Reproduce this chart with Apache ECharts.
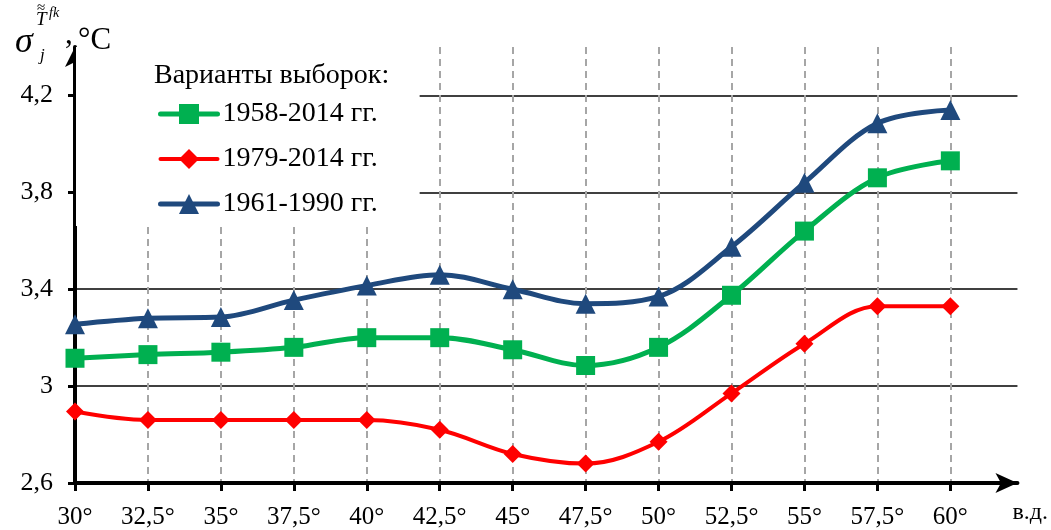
<!DOCTYPE html>
<html>
<head>
<meta charset="utf-8">
<script src="https://cdn.jsdelivr.net/npm/echarts@6/dist/echarts.min.js"></script>
<style>
  html, body { margin: 0; padding: 0; background: #fff; }
  #chart { width: 1051px; height: 530px; }
</style>
</head>
<body>
<div id="chart"></div>
<script>
// longitude, degrees E
const longitudes = [30, 32.5, 35, 37.5, 40, 42.5, 45, 47.5, 50, 52.5, 55, 57.5, 60];
const yTickValues = [2.6, 3, 3.4, 3.8, 4.2];
const seriesNames = ['1958-2014 гг.', '1979-2014 гг.', '1961-1990 гг.'];
const values1958 = [3.115, 3.13, 3.14, 3.16, 3.2, 3.2, 3.15, 3.085, 3.16, 3.375, 3.64, 3.86, 3.93];
const values1979 = [2.895, 2.86, 2.86, 2.86, 2.86, 2.82, 2.72, 2.68, 2.77, 2.97, 3.175, 3.33, 3.33];
const values1961 = [3.255, 3.28, 3.285, 3.355, 3.415, 3.46, 3.4, 3.34, 3.37, 3.575, 3.84, 4.085, 4.14];

const serif = '"Liberation Serif", "DejaVu Serif", serif';
const fmtNum = v => String(v).replace('.', ',');
const pairs = vals => longitudes.map((x, i) => [x, vals[i]]);

let chartElem = document.getElementById('chart');
let chart = echarts.init(chartElem, null, { renderer: 'canvas' });

function lineSeries(name, vals, color, symbol, size, width) {
    return {
        name: name,
        type: 'line',
        data: pairs(vals),
        smooth: 0.35,
        symbol: symbol,
        symbolSize: size,
        lineStyle: { color: color, width: width },
        itemStyle: { color: color },
        emphasis: { disabled: true }
    };
}

const titleText = (text, left, top, size, italic) => ({
    text: text, left: left, top: top, z: 10,
    textStyle: {
        fontFamily: serif, fontWeight: 'normal', fontSize: size,
        fontStyle: italic ? 'italic' : 'normal', color: '#000'
    }
});

chart.setOption({
    animation: false,
    title: [
        titleText('σ', 10, 20, 36, true),
        titleText('j', 35, 42, 17, true),
        titleText('≈', 32, -4, 15, false),
        titleText('T', 31, 5, 19, true),
        titleText('fk', 44, 1, 14, true),
        titleText(',', 60, 14, 31, false),
        titleText('°C', 73, 20, 31, false),
        titleText('Варианты выборок:', 149, 57, 28, false)
    ],
    legend: {
        data: [
            { name: seriesNames[0], lineStyle: { width: 5 } },
            { name: seriesNames[1], lineStyle: { width: 4 } },
            { name: seriesNames[2], lineStyle: { width: 5 } }
        ],
        orient: 'vertical',
        left: 76, top: 47,
        padding: [53, 42, 8, 82],
        backgroundColor: '#fff',
        itemWidth: 57,
        itemHeight: 25,
        itemGap: 17,
        lineStyle: { width: 5, cap: 'round' },
        textStyle: { fontFamily: serif, fontSize: 28, color: '#000' }
    },
    grid: { left: 75, right: 33, top: 47, bottom: 45 },
    xAxis: {
        type: 'value',
        min: 30,
        max: 62.3,
        name: 'в.д.',
        nameLocation: 'end',
        nameGap: -5,
        nameTextStyle: { fontFamily: serif, fontSize: 24, color: '#000', verticalAlign: 'top', padding: [18, 0, 0, 0] },
        axisLine: {
            lineStyle: { color: '#000', width: 4 },
            symbol: ['none', 'arrow'],
            symbolSize: [15, 22]
        },
        axisTick: { customValues: longitudes, length: 8, lineStyle: { color: '#000', width: 3 } },
        axisLabel: {
            customValues: longitudes,
            formatter: v => fmtNum(v) + '°',
            margin: 22,
            fontFamily: serif, fontSize: 25, color: '#000'
        },
        splitLine: { show: true, lineStyle: { color: '#A6A6A6', width: 2, type: [7, 5] } }
    },
    yAxis: {
        type: 'value',
        min: 2.6,
        max: 4.4,
        axisLine: {
            show: true,
            lineStyle: { color: '#000', width: 4 },
            symbol: ['none', 'arrow'],
            symbolSize: [15, 20]
        },
        axisTick: { show: true, customValues: yTickValues, length: 7, lineStyle: { color: '#000', width: 3 } },
        axisLabel: {
            customValues: yTickValues,
            formatter: v => fmtNum(v),
            margin: 22,
            fontFamily: serif, fontSize: 26, color: '#000'
        },
        splitLine: { show: true, lineStyle: { color: '#000', width: 1.6 } }
    },
    series: [
        lineSeries(seriesNames[0], values1958, '#00B050', 'rect', 19, 5),
        lineSeries(seriesNames[1], values1979, '#FF0000', 'diamond', 18, 4),
        lineSeries(seriesNames[2], values1961, '#1F497D', 'triangle', 20, 5)
    ]
});
</script>
</body>
</html>
